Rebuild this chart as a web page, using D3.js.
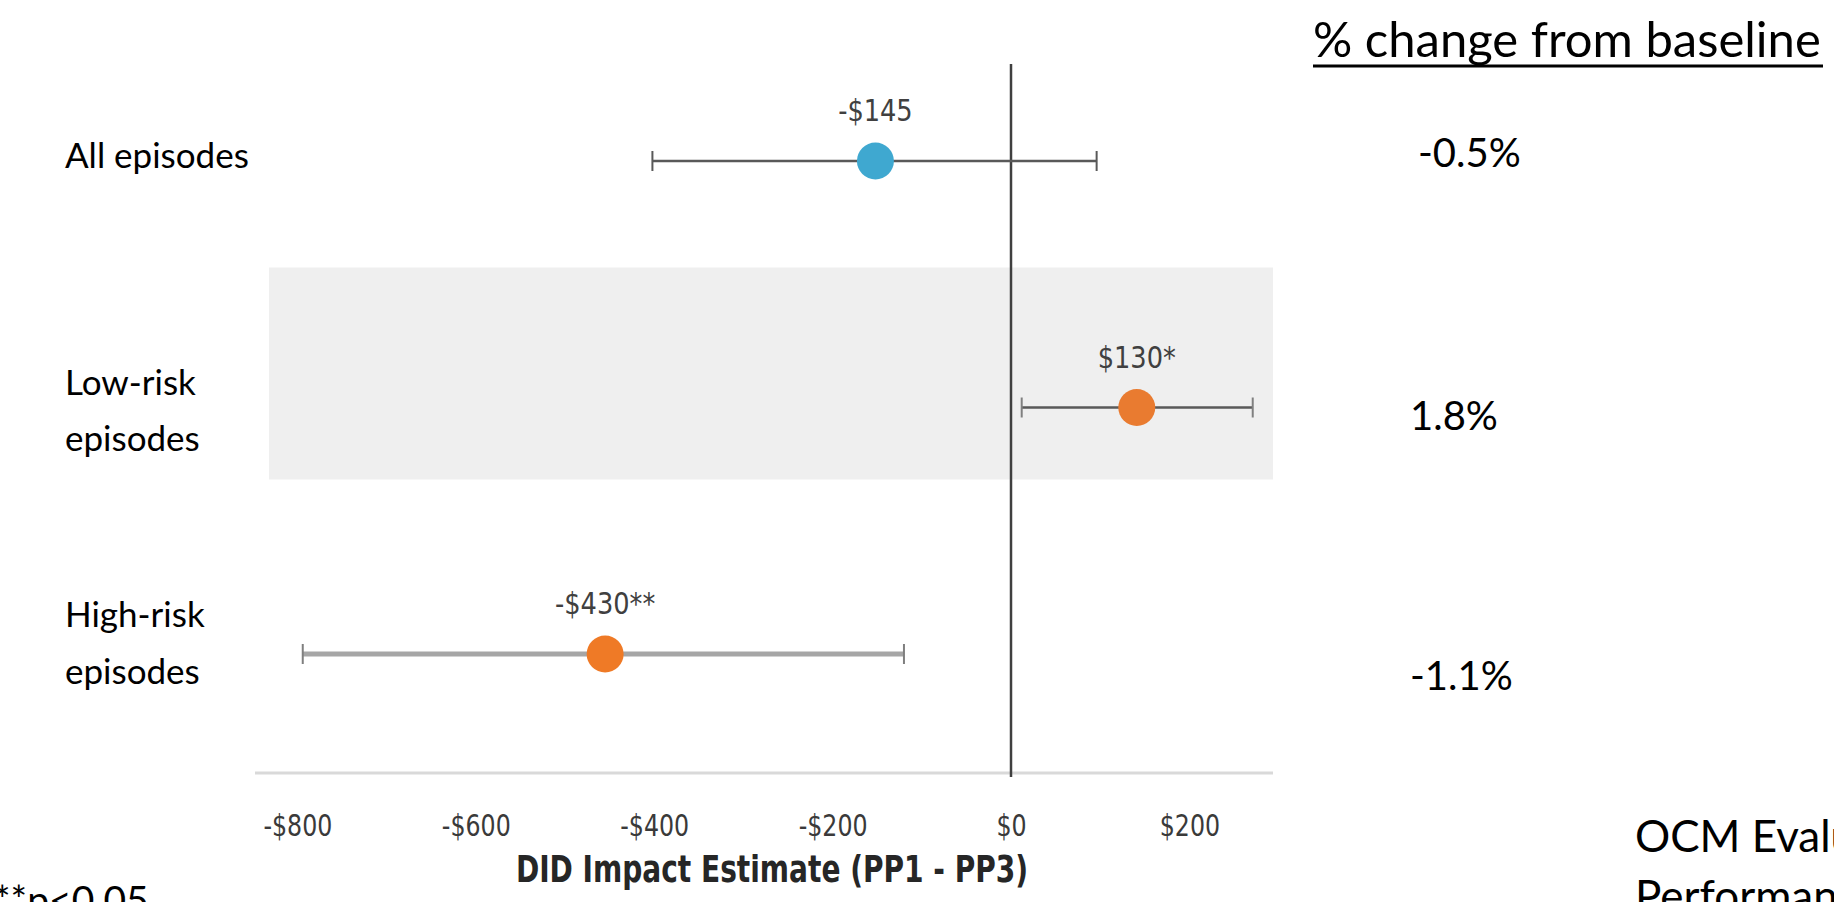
<!DOCTYPE html>
<html>
<head>
<meta charset="utf-8">
<script src="https://cdn.jsdelivr.net/npm/d3@7"></script>
<style>
  html, body { margin: 0; padding: 0; background: #fff; overflow: hidden; }
  svg { display: block; }
</style>
</head>
<body>
<svg id="chart" width="1834" height="902"></svg>
<script>
// ---- data ----
const categories = [["All episodes"], ["Low-risk", "episodes"], ["High-risk", "episodes"]];
const estimates = [-152, 141, -455];
const ciLow = [-402, 12, -794];
const ciHigh = [96, 271, -120];
const estimateLabels = ["-$145", "$130*", "-$430**"];
const pctChange = ["-0.5%", "1.8%", "-1.1%"];
const tickValues = [-800, -600, -400, -200, 0, 200];
const tickLabels = ["-$800", "-$600", "-$400", "-$200", "$0", "$200"];
const pointColors = ["#3fa8d0", "#e97b30", "#ef7a26"];
const barColors = ["#595959", "#595959", "#a6a6a6"];
const barWidths = [2.5, 2.5, 5];
const capColors = ["#595959", "#808080", "#7f7f7f"];

const svg = d3.select("#chart");
const narrow = "'Liberation Sans Narrow', 'Arial Narrow', 'DejaVu Sans Condensed', sans-serif";
const calib = "Lato, 'Open Sans', sans-serif";

function condense(sel, f) {
  sel.each(function() {
    const w = this.getComputedTextLength();
    d3.select(this).attr("textLength", w * f).attr("lengthAdjust", "spacingAndGlyphs");
  });
}

const x = d3.scaleLinear().domain([-850, 300]).range([252.8, 1278.6]);
const rowKeys = categories.map((c, i) => i);
const y = d3.scalePoint().domain(rowKeys).range([161, 654]);

// shaded band behind Low-risk row
svg.append("rect")
  .attr("x", 269).attr("width", 1273 - 269)
  .attr("y", y(1) - 140).attr("height", 212)
  .attr("fill", "#efefef");

// x axis
const axisY = 773;
const xAxis = d3.axisBottom(x).tickValues(tickValues)
  .tickFormat((d, i) => tickLabels[i]).tickSize(0).tickPadding(0);
const ax = svg.append("g").attr("transform", `translate(0,${axisY})`).call(xAxis);
ax.select(".domain").attr("stroke", "#d9d9d9").attr("stroke-width", 3)
  .attr("d", `M255,0H1273`);
ax.selectAll(".tick text")
  .attr("font-family", narrow).attr("font-size", 31).attr("fill", "#3a3a3a")
  .attr("dy", null).attr("y", 63)
  .call(condense, 0.85);

// axis title
svg.append("text")
  .attr("x", 772).attr("y", 882)
  .attr("text-anchor", "middle")
  .attr("font-family", narrow).attr("font-weight", "bold")
  .attr("font-size", 38).attr("fill", "#262626")
  .text("DID Impact Estimate (PP1 - PP3)")
  .call(condense, 0.82);

// zero line
svg.append("line")
  .attr("x1", x(0)).attr("x2", x(0))
  .attr("y1", 64).attr("y2", 777)
  .attr("stroke", "#404040").attr("stroke-width", 2.5);

// error bars
const rows = svg.append("g").selectAll("g").data(rowKeys).join("g");
rows.append("line")
  .attr("x1", i => x(ciLow[i])).attr("x2", i => x(ciHigh[i]))
  .attr("y1", i => y(i)).attr("y2", i => y(i))
  .attr("stroke", i => barColors[i]).attr("stroke-width", i => barWidths[i]);
rows.append("line")
  .attr("x1", i => x(ciLow[i])).attr("x2", i => x(ciLow[i]))
  .attr("y1", i => y(i) - 10).attr("y2", i => y(i) + 10)
  .attr("stroke", i => capColors[i]).attr("stroke-width", 2);
rows.append("line")
  .attr("x1", i => x(ciHigh[i])).attr("x2", i => x(ciHigh[i]))
  .attr("y1", i => y(i) - 10).attr("y2", i => y(i) + 10)
  .attr("stroke", i => capColors[i]).attr("stroke-width", 2);

// points
rows.append("circle")
  .attr("cx", i => x(estimates[i])).attr("cy", i => y(i))
  .attr("r", 18.5).attr("fill", i => pointColors[i]);

// estimate labels
rows.append("text")
  .attr("x", i => x(estimates[i])).attr("y", i => y(i) - 40)
  .attr("text-anchor", "middle")
  .attr("font-family", narrow).attr("font-size", 31).attr("fill", "#404040")
  .text(i => estimateLabels[i])
  .call(condense, 0.92);

// category labels
const catLayout = [[168], [395, 451], [627, 684]];
svg.append("g").selectAll("text").data(rowKeys).join("text")
  .attr("font-family", calib).attr("font-size", 35).attr("fill", "#000")
  .each(function(i) {
    const t = d3.select(this);
    categories[i].forEach((ln, k) => {
      t.append("tspan").attr("x", 65).attr("y", catLayout[i][k]).text(ln);
    });
  });

// % change column
svg.append("text")
  .attr("x", 1313).attr("y", 57)
  .attr("font-family", calib).attr("font-size", 49).attr("fill", "#000")
  .text("% change from baseline");
svg.append("line")
  .attr("x1", 1313).attr("x2", 1823).attr("y1", 66).attr("y2", 66)
  .attr("stroke", "#000").attr("stroke-width", 3);

const pctLayout = [[1418, 167], [1410, 430], [1410, 690]];
svg.append("g").selectAll("text").data(rowKeys).join("text")
  .attr("x", i => pctLayout[i][0]).attr("y", i => pctLayout[i][1])
  .attr("font-family", calib).attr("font-size", 40).attr("fill", "#000")
  .text(i => pctChange[i]);

// footnote (cut off at the bottom edge, as in the source)
svg.append("text")
  .attr("x", -6).attr("y", 914)
  .attr("font-family", calib).attr("font-size", 39).attr("fill", "#000")
  .text("**p<0.05");

// source text (cut off at the right edge, as in the source)
svg.append("text")
  .attr("font-family", calib).attr("font-size", 44).attr("fill", "#000")
  .call(t => {
    t.append("tspan").attr("x", 1635).attr("y", 852).text("OCM Evaluation");
    t.append("tspan").attr("x", 1635).attr("y", 912).text("Performance");
  });
</script>
</body>
</html>
